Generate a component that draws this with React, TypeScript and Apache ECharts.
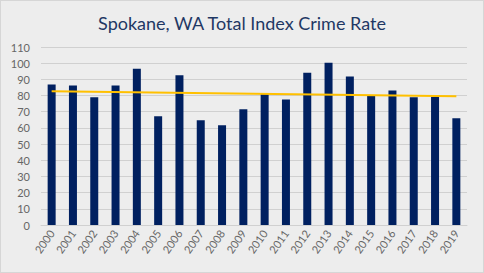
import React, { useEffect, useRef } from "react";
import * as echarts from "echarts";

const years = ["2000","2001","2002","2003","2004","2005","2006","2007","2008","2009","2010","2011","2012","2013","2014","2015","2016","2017","2018","2019"];
const crimeRate = [86.8, 86.2, 78.9, 86.2, 96.6, 67.2, 92.5, 64.8, 61.7, 71.5, 81.1, 77.6, 94.1, 100.2, 91.7, 79.7, 83.1, 78.9, 79.1, 66.0];
const trendStart = 82.7;
const trendEnd = 79.5;
const yTicks = { min: 0, max: 110, interval: 10 };

export default function App() {
  const ref = useRef<HTMLDivElement>(null);
  useEffect(() => {
    if (!ref.current) return;
    const chart = echarts.init(ref.current, null, { renderer: "svg" });
    chart.setOption({
      animation: false,
      backgroundColor: "#ededed",
      title: {
        text: "Spokane, WA Total Index Crime Rate",
        left: "center",
        top: 8,
        textStyle: { color: "#1f3864", fontSize: 18, fontWeight: "normal", fontFamily: "Lato" },
      },
      grid: { left: 40, right: 16, top: 46, bottom: 47 },
      xAxis: {
        type: "category",
        data: years,
        axisLine: { lineStyle: { color: "#d0d0d0" } },
        axisTick: { show: false },
        axisLabel: { color: "#666666", fontSize: 11, rotate: 55, margin: 6, fontFamily: "Lato" },
      },
      yAxis: {
        type: "value",
        min: yTicks.min,
        max: yTicks.max,
        interval: yTicks.interval,
        axisLine: { show: false },
        axisTick: { show: false },
        axisLabel: { color: "#666666", fontSize: 11, margin: 11, fontFamily: "Lato" },
        splitLine: { lineStyle: { color: "#d0d0d0", width: 1 } },
      },
      series: [
        {
          type: "bar",
          data: crimeRate,
          barWidth: 8,
          itemStyle: { color: "#002060" },
        },
        {
          type: "line",
          data: [[years[0], trendStart], [years[years.length - 1], trendEnd]],
          symbol: "none",
          lineStyle: { color: "#ffc000", width: 2 },
          z: 5,
        },
      ],
    });
    return () => chart.dispose();
  }, []);
  return (
    <div
      ref={ref}
      style={{
        position: "fixed",
        left: 0,
        top: 0,
        width: 484,
        height: 273,
        boxSizing: "border-box",
        border: "1px solid #d6d6d6",
      }}
    />
  );
}
